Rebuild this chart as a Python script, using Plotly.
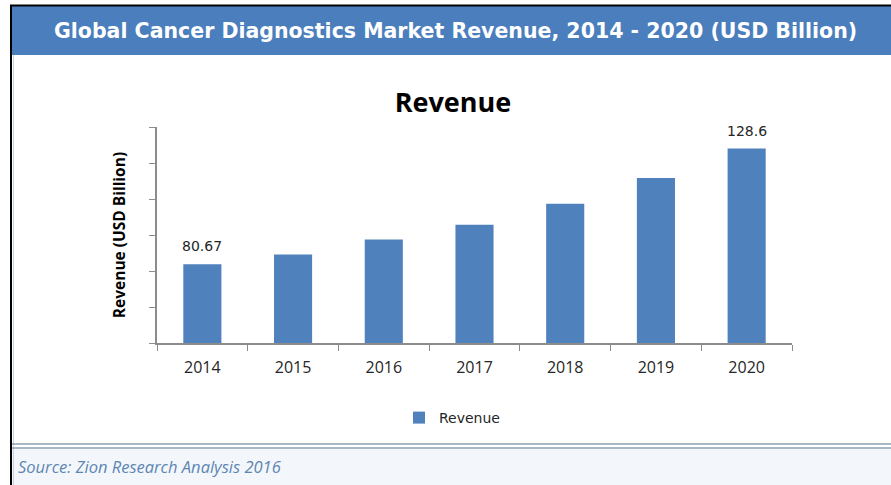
import plotly.graph_objects as go

# Chart data
years = ["2014", "2015", "2016", "2017", "2018", "2019", "2020"]
revenue = [80.67, 84.7, 90.9, 97.1, 105.8, 116.4, 128.6]
labelled_years = ["2014", "2020"]

banner_title = "Global Cancer Diagnostics Market Revenue, 2014 - 2020 (USD Billion)"
chart_title = "Revenue"
y_title = "Revenue (USD Billion)"
series_name = "Revenue"
source_text = "Source: Zion Research Analysis 2016"

# Page geometry (pixels)
FIG_W, FIG_H = 891, 485
L, R, T, B = 157, 99, 127, 142
PW, PH = FIG_W - L - R, FIG_H - T - B

BAR = "#4f81bd"
BANNER = "#4a7ebc"
AXIS = "#8c8c8c"


def px(x):
    return (x - L) / PW


def py(y):
    return (T + PH - y) / PH


fig = go.Figure()
fig.add_trace(go.Bar(
    x=years, y=revenue, name=series_name,
    marker=dict(color=BAR, line=dict(width=0)),
    showlegend=True, hoverinfo="x+y",
))

# value labels for the first and last year (category index keeps the
# year-like strings from being read as serial positions)
for i, (yr, val) in enumerate(zip(years, revenue)):
    if yr in labelled_years:
        fig.add_annotation(
            x=i, y=val, text=f"{val:g}", showarrow=False,
            yanchor="bottom", yshift=8,
            font=dict(family="DejaVu Sans", size=14, color="#262626"),
        )

shapes = []
# white body
shapes.append(dict(type="rect", xref="paper", yref="paper",
                   x0=px(12), x1=px(FIG_W), y0=py(FIG_H), y1=py(55),
                   fillcolor="white", line=dict(width=0), layer="below"))
# footer panel
shapes.append(dict(type="rect", xref="paper", yref="paper",
                   x0=px(12), x1=px(FIG_W), y0=py(FIG_H), y1=py(449),
                   fillcolor="#f3f7fc", line=dict(width=0), layer="below"))
# header banner
shapes.append(dict(type="rect", xref="paper", yref="paper",
                   x0=px(12), x1=px(FIG_W), y0=py(55), y1=py(6),
                   fillcolor=BANNER, line=dict(width=0), layer="below"))
# outer black frame (top and left)
shapes.append(dict(type="line", xref="paper", yref="paper",
                   x0=px(10), x1=px(FIG_W), y0=py(5.5), y1=py(5.5),
                   line=dict(color="black", width=2)))
shapes.append(dict(type="line", xref="paper", yref="paper",
                   x0=px(11), x1=px(11), y0=py(5), y1=py(FIG_H),
                   line=dict(color="black", width=2)))
# faint inner border
shapes.append(dict(type="line", xref="paper", yref="paper",
                   x0=px(13.5), x1=px(13.5), y0=py(55), y1=py(FIG_H),
                   line=dict(color="#c5d3e2", width=1)))
# footer double rule
for yy in (444, 448):
    shapes.append(dict(type="line", xref="paper", yref="paper",
                       x0=px(12), x1=px(FIG_W), y0=py(yy), y1=py(yy),
                       line=dict(color="#8aa0b0", width=1.5)))

fig.update_layout(shapes=shapes)

# banner text
fig.add_annotation(
    xref="paper", yref="paper", x=px(455), y=py(31),
    text=f"<b>{banner_title}</b>", showarrow=False,
    xanchor="center", yanchor="middle",
    font=dict(family="DejaVu Sans", size=20.5, color="white"),
)
# source note
fig.add_annotation(
    xref="paper", yref="paper", x=px(16), y=py(466),
    text=f"<i>{source_text}</i>", showarrow=False,
    xanchor="left", yanchor="middle",
    font=dict(family="Open Sans", size=16.5, color="#5d86b2"),
)

fig.update_layout(
    width=FIG_W, height=FIG_H,
    margin=dict(l=L, r=R, t=T, b=B, pad=0),
    paper_bgcolor="white", plot_bgcolor="white",
    title=dict(text=f"<b>{chart_title}</b>", x=453 / FIG_W, y=1 - 103 / FIG_H,
               xanchor="center", yanchor="middle", xref="container", yref="container",
               font=dict(family="Open Sans", size=27, color="black")),
    bargap=0.58,
    xaxis=dict(
        type="category", range=[-0.5, len(years) - 0.5],
        showline=True, linecolor=AXIS, linewidth=1.5,
        ticks="outside", tickson="boundaries", ticklen=6, tickcolor=AXIS,
        tickfont=dict(family="Open Sans", size=16, color="#262626"),
        tickangle=0, ticklabelstandoff=9,
        showgrid=False, zeroline=False, fixedrange=True,
    ),
    yaxis=dict(
        range=[48.07, 137.55], tick0=48.07, dtick=(137.55 - 48.07) / 6,
        showline=True, linecolor=AXIS, linewidth=1.5,
        ticks="outside", ticklen=6, tickcolor=AXIS, showticklabels=False,
        showgrid=False, zeroline=False, fixedrange=True,
        title=dict(text=f"<b>{y_title}</b>", standoff=20,
                   font=dict(family="Open Sans", size=15.5, color="black")),
    ),
    legend=dict(
        orientation="h", x=px(452), y=py(418), xanchor="center", yanchor="middle",
        font=dict(family="DejaVu Sans", size=14, color="#262626"),
        bgcolor="rgba(0,0,0,0)",
    ),
)

fig.write_html("out.html")
